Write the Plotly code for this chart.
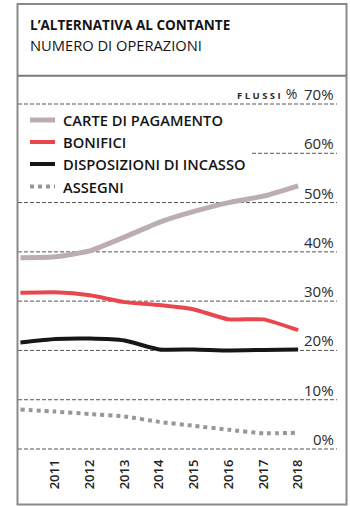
import plotly.graph_objects as go

# Data: share of non-cash payment transactions (%), 2010-2018
years = [2010, 2011, 2012, 2013, 2014, 2015, 2016, 2017, 2018]
tick_years = [2011, 2012, 2013, 2014, 2015, 2016, 2017, 2018]
carte = [38.8, 39.0, 40.2, 43.0, 46.0, 48.2, 50.0, 51.3, 53.4]
bonifici = [31.7, 31.8, 31.2, 29.8, 29.2, 28.3, 26.3, 26.3, 24.1]
disposizioni = [21.6, 22.3, 22.4, 22.0, 20.2, 20.2, 20.0, 20.1, 20.2]
assegni = [8.0, 7.6, 7.1, 6.6, 5.5, 4.7, 3.9, 3.2, 3.3]

series_names = ["CARTE DI PAGAMENTO", "BONIFICI", "DISPOSIZIONI DI INCASSO", "ASSEGNI"]
series_values = [carte, bonifici, disposizioni, assegni]
grid_values = [0, 10, 20, 30, 40, 50, 60, 70]

title = "L’ALTERNATIVA AL CONTANTE"
subtitle = "NUMERO DI OPERAZIONI"

# Styles
colors = ["#bcaeae", "#e8474c", "#161616", "#9a9696"]
widths = [5, 4, 4, 4]
dashes = ["solid", "solid", "solid", "4px,4px"]
FONT = "Open Sans"

W, H = 350, 506
L, R, T, B = 18, 13, 80, 50
pw, ph = W - L - R, H - T - B


def px(x):
    return (x - L) / pw


def py(y):
    return (H - B - y) / ph


fig = go.Figure()
for name, vals, c, w, d in zip(series_names, series_values, colors, widths, dashes):
    fig.add_trace(go.Scatter(
        x=years, y=vals, mode="lines", name=name,
        line=dict(color=c, width=w, dash=d, shape="spline", smoothing=0.5),
        showlegend=False, hoverinfo="skip",
    ))

shapes = []
annotations = []

# Dashed gridlines with value labels sitting above them
for g in grid_values:
    x0 = px(252) if g == 60 else 0
    shapes.append(dict(type="line", xref="paper", yref="y", x0=x0, x1=1, y0=g, y1=g,
                       line=dict(color="#555555", width=1, dash="4px,2px"), layer="below"))
    annotations.append(dict(xref="paper", yref="y", x=px(336), y=g, text=f"{g}%",
                            xanchor="right", yanchor="bottom", showarrow=False,
                            font=dict(family=FONT, size=15, color="#2b2b2b"), yshift=-2))

annotations.append(dict(xref="paper", yref="y", x=px(299), y=70,
                        text="<b>F L U S S I</b>  <span style='font-size:14px'>%</span>",
                        xanchor="right", yanchor="bottom", showarrow=False,
                        font=dict(family=FONT, size=9.5, color="#2b2b2b"), yshift=-1))

# Legend drawn as sample strokes plus labels
legend_y = [120, 142, 164, 186.5]
for name, ly, c, w, d in zip(series_names, legend_y, colors, widths, dashes):
    shapes.append(dict(type="line", xref="paper", yref="paper", x0=px(30), x1=px(55),
                       y0=py(ly), y1=py(ly), line=dict(color=c, width=w, dash=d)))
    annotations.append(dict(xref="paper", yref="paper", x=px(61), y=py(ly), text=name,
                            xanchor="left", yanchor="middle", showarrow=False,
                            font=dict(family=FONT, size=14.7, color="#141414", weight=600)))

# Header
annotations.append(dict(xref="paper", yref="paper", x=px(28), y=py(25), text=f"<b>{title}</b>",
                        xanchor="left", yanchor="middle", showarrow=False,
                        font=dict(family=FONT, size=13.5, color="#141414")))
annotations.append(dict(xref="paper", yref="paper", x=px(28), y=py(45), text=subtitle,
                        xanchor="left", yanchor="middle", showarrow=False,
                        font=dict(family=FONT, size=14.7, color="#141414")))

# Frame and header separator
shapes.append(dict(type="rect", xref="paper", yref="paper", x0=px(17.5), x1=px(346.5),
                   y0=py(504.5), y1=py(4), line=dict(color="#8a8a8a", width=2)))
shapes.append(dict(type="line", xref="paper", yref="paper", x0=px(17.5), x1=px(346.5),
                   y0=py(75.7), y1=py(75.7), line=dict(color="#7a7a7a", width=2)))

fig.update_layout(
    width=W, height=H,
    margin=dict(l=L, r=R, t=T, b=B, pad=0),
    paper_bgcolor="white", plot_bgcolor="white",
    shapes=shapes, annotations=annotations,
    showlegend=False,
    xaxis=dict(range=[2009.93, 2019.12], tickvals=tick_years, ticktext=[str(y) for y in tick_years],
               tickangle=-90, showgrid=False, zeroline=False, showline=False, ticks="",
               tickfont=dict(family=FONT, size=13, color="#222222", weight=600), fixedrange=True),
    yaxis=dict(range=[-1.42, 74.87], showgrid=False, zeroline=False, showticklabels=False,
               showline=False, ticks="", fixedrange=True),
)

fig.write_html("out.html")
